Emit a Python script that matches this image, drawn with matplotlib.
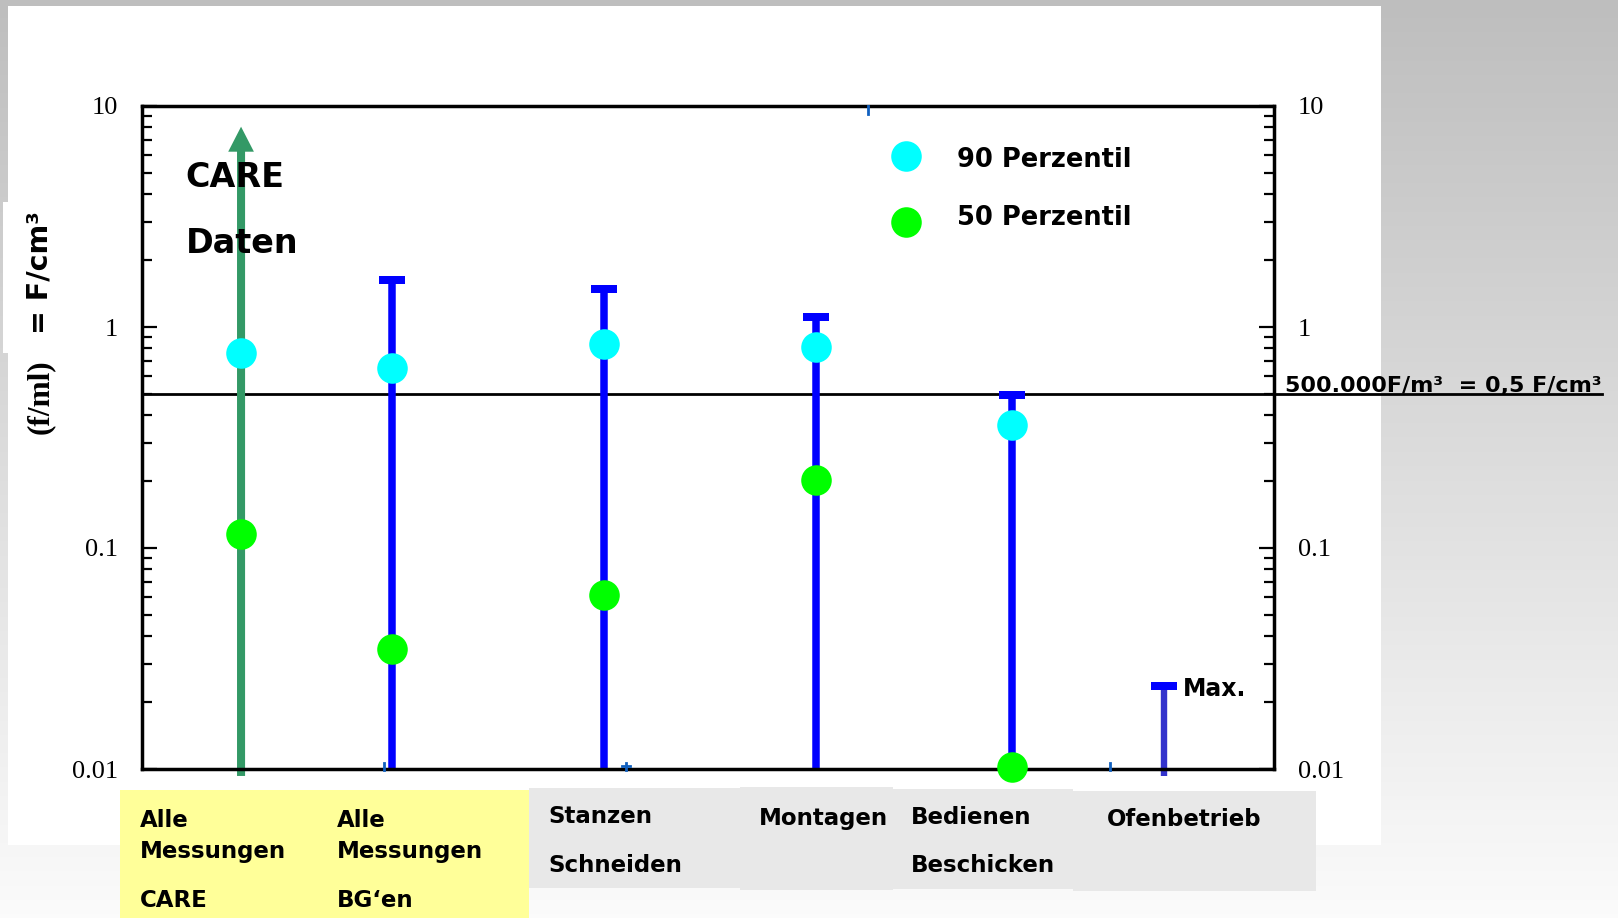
import numpy as np
import matplotlib
matplotlib.use("Agg")
import matplotlib.pyplot as plt
from matplotlib.patches import Rectangle, ArrowStyle
from matplotlib.lines import Line2D
from matplotlib.ticker import FixedLocator, LogLocator, NullFormatter

# Fibre concentrations per activity (f/ml)
categories = ["Alle Messungen CARE", "Alle Messungen BG'en", "Stanzen Schneiden",
              "Montagen", "Bedienen Beschicken", "Ofenbetrieb"]
p90_values = [0.765, 0.65, 0.84, 0.815, 0.359, np.nan]
p50_values = [0.1157, 0.0348, 0.0615, 0.203, 0.0102, np.nan]
max_values = [8.06, 1.63, 1.49, 1.11, 0.49, 0.0238]
low_values = [0.0093, 0.01, 0.01, 0.01, 0.01, 0.0093]
limit_value = 0.5

y_ticks = [0.01, 0.1, 1, 10]
y_ticklabels = ["0.01", "0.1", "1", "10"]

# column layout along the x axis (axes fraction)
x_pos = [0.0875, 0.2208, 0.408, 0.595, 0.7686, 0.9025]

W, H = 1618, 918
DPI = 100
PX = 72 / DPI  # points per pixel


def fx(px):
    return px / W


def fy(py):
    return 1 - py / H


plt.rcParams["font.family"] = ["DejaVu Sans"]
SERIF = "Liberation Serif"

fig = plt.figure(figsize=(W / DPI, H / DPI), dpi=DPI)

# slide background: grey gradient, white panel, label boxes
bg = fig.add_axes([0, 0, 1, 1], zorder=-10)
grad = np.linspace(190, 251, 256)[:, None] / 255.0
bg.imshow(np.dstack([grad] * 3), extent=[0, 1, 0, 1], aspect="auto")
bg.set_axis_off()


def box(x0, y0, x1, y1, color, z=-5):
    fig.patches.append(Rectangle((fx(x0), fy(y1)), fx(x1) - fx(x0), fy(y0) - fy(y1),
                                 transform=fig.transFigure, facecolor=color,
                                 edgecolor="none", zorder=z))


box(8, 6, 1381, 845, "white")
box(3, 202, 10, 353, "white")
box(120, 790, 529, 918, "#ffff99", z=-4)
box(529, 788, 740, 888, "#e8e8e8", z=-4)
box(740, 787, 893, 890, "#e8e8e8", z=-4)
box(893, 789, 1073, 889, "#e8e8e8", z=-4)
box(1073, 791, 1316, 891, "#e8e8e8", z=-4)

ax = fig.add_axes([fx(142), fy(769), (1274 - 142) / W, (769 - 106) / H])
ax.set_facecolor("none")
ax.set_yscale("log")
ax.set_ylim(0.01, 10)
ax.set_xlim(0, 1)
ax.set_xticks([])
ax.yaxis.set_major_locator(FixedLocator(y_ticks))
ax.set_yticklabels(y_ticklabels, fontfamily=SERIF, fontsize=19)
ax.yaxis.set_minor_locator(LogLocator(base=10, subs=np.arange(2, 10)))
ax.yaxis.set_minor_formatter(NullFormatter())
ax.tick_params(axis="y", which="both", direction="in", left=True, right=True,
               labelleft=True, labelright=True, width=1.6, colors="black")
ax.tick_params(axis="y", which="major", length=11, pad=17)
ax.tick_params(axis="y", which="minor", length=7.5)
for s in ax.spines.values():
    s.set_linewidth(2.5)

# CARE column: arrow, values go beyond the plotted range
ax.annotate("", xy=(x_pos[0], max_values[0]), xytext=(x_pos[0], low_values[0]),
            arrowprops=dict(arrowstyle=ArrowStyle.Simple(head_length=18, head_width=18.5,
                                                         tail_width=5.8),
                            mutation_scale=1, fc="#339966", ec="none", lw=0,
                            shrinkA=0, shrinkB=0),
            annotation_clip=False, zorder=2)

# remaining columns: range line with cap at the maximum
for i in range(1, len(categories)):
    col = "#3333cc" if i == len(categories) - 1 else "#0000ff"
    lw = 4.6 if i == len(categories) - 1 else 5.4
    ax.vlines(x_pos[i], low_values[i], max_values[i], colors=col, lw=lw,
              zorder=2, clip_on=False)
    ax.plot(x_pos[i], max_values[i], marker="_", ms=27 * PX, mew=8 * PX,
            color="#0000ff", zorder=3, clip_on=False)

ax.plot(x_pos, p90_values, "o", ms=22, color="#00ffff", mec="none", zorder=4, clip_on=False)
ax.plot(x_pos, p50_values, "o", ms=22, color="#00ff00", mec="none", zorder=4, clip_on=False)

# limit value line, running out to its label
ax.axhline(limit_value, xmin=0, xmax=(1602 - 142) / (1274 - 142), color="black",
           lw=2.0, clip_on=False, zorder=1)
fig.text(fx(1285), fy(392), "500.000F/m³  = 0,5 F/cm³", fontsize=16,
         fontweight="bold", va="baseline")

# legend
ax.plot([0.6745], [0.925], "o", ms=22, color="#00ffff", mec="none",
        transform=ax.transAxes, clip_on=False)
ax.plot([0.6745], [0.825], "o", ms=22, color="#00ff00", mec="none",
        transform=ax.transAxes, clip_on=False)
fig.text(fx(957), fy(166.7), "90 Perzentil", fontsize=18.5, fontweight="bold", va="baseline")
fig.text(fx(957), fy(225), "50 Perzentil", fontsize=18.5, fontweight="bold", va="baseline")

fig.text(fx(185.7), fy(186.7), "CARE", fontsize=24, fontweight="bold", va="baseline")
fig.text(fx(185.7), fy(253.3), "Daten", fontsize=24, fontweight="bold", va="baseline")
fig.text(fx(1183), fy(695.7), "Max.", fontsize=17, fontweight="bold", va="baseline")

# y axis title
fig.text(fx(40), fy(397), "(f/ml)", fontfamily=SERIF, fontsize=22.5, fontweight="bold",
         rotation=90, ha="center", va="center")
fig.text(fx(40), fy(273), "= F/cm³", fontsize=20.5, fontweight="bold",
         rotation=90, ha="center", va="center")

# category captions below the plot
cat_kw = dict(fontsize=16.5, fontweight="bold", va="baseline")
fig.text(fx(140), fy(826.7), "Alle", **cat_kw)
fig.text(fx(140), fy(858), "Messungen", **cat_kw)
fig.text(fx(140), fy(906.7), "CARE", **cat_kw)
fig.text(fx(337), fy(826.7), "Alle", **cat_kw)
fig.text(fx(337), fy(858), "Messungen", **cat_kw)
fig.text(fx(337), fy(906.7), "BG‘en", **cat_kw)
fig.text(fx(548), fy(823), "Stanzen", **cat_kw)
fig.text(fx(548), fy(871.7), "Schneiden", **cat_kw)
fig.text(fx(758.5), fy(825), "Montagen", **cat_kw)
fig.text(fx(911), fy(824), "Bedienen", **cat_kw)
fig.text(fx(911), fy(871.7), "Beschicken", **cat_kw)
fig.text(fx(1107), fy(826), "Ofenbetrieb", **cat_kw)

# small blue marks on the frame
for (x0, y0, x1, y1) in [(867.7, 106, 867.7, 114), (384, 763, 384, 770),
                         (626, 763, 626, 770), (622, 766, 630, 766),
                         (1110, 763, 1110, 770)]:
    fig.lines.append(Line2D([fx(x0), fx(x1)], [fy(y0), fy(y1)], transform=fig.transFigure,
                            color="#1060c0", lw=2, zorder=5))

fig.savefig("out.png", dpi=DPI)
